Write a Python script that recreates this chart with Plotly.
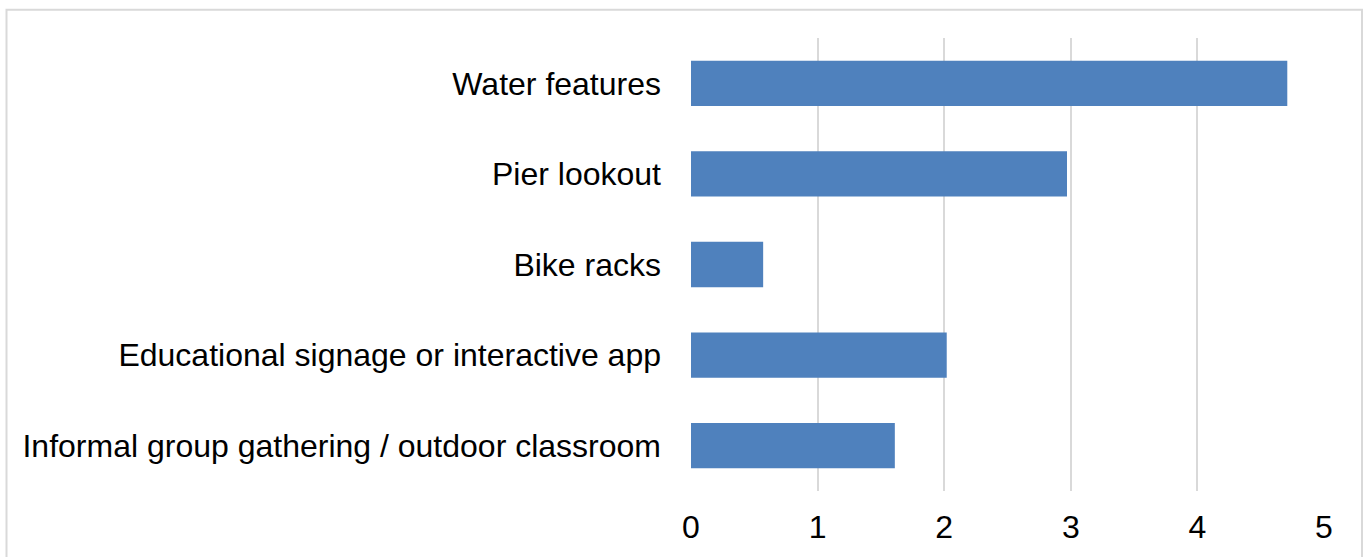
import plotly.graph_objects as go

categories = ["Informal group gathering / outdoor classroom",
              "Educational signage or interactive app",
              "Bike racks",
              "Pier lookout",
              "Water features"]
values = [1.61, 2.02, 0.57, 2.97, 4.71]
x_ticks = [0, 1, 2, 3, 4, 5]

W, H = 1363, 557
L, R, T, B = 691, 39, 38, 63
pw, ph = W - L - R, H - T - B

def px_x(x):
    return (x - L) / pw

def px_y(y):
    return (H - B - y) / ph

fig = go.Figure(go.Bar(
    x=values, y=categories, orientation="h",
    marker=dict(color="#4f81bd", line=dict(width=0)),
    width=0.5,
))

fig.update_layout(
    width=W, height=H,
    margin=dict(l=L, r=R, t=T, b=B),
    paper_bgcolor="white", plot_bgcolor="white",
    font=dict(family="Liberation Sans, Arial, sans-serif", size=32, color="black"),
    showlegend=False,
    xaxis=dict(range=[0, 5], tickvals=x_ticks, showgrid=True, gridcolor="#d9d9d9",
               gridwidth=2, zeroline=False, showline=False, ticks="",
               ticklabelstandoff=14, fixedrange=True),
    yaxis=dict(showgrid=False, zeroline=False, showline=False, ticks="",
               ticklabelstandoff=29, fixedrange=True),
    shapes=[dict(type="rect", xref="paper", yref="paper",
                 x0=px_x(6.5), x1=px_x(1362), y0=px_y(570), y1=px_y(9.5),
                 line=dict(color="#d9d9d9", width=2), layer="below")],
)

fig.write_html("out.html", config={"displayModeBar": False})

with open("out.html", "r", encoding="utf-8") as f:
    html = f.read()
html = html.replace("<head>", "<head><style>html,body{margin:0;padding:0;overflow:hidden;}</style>", 1)
with open("out.html", "w", encoding="utf-8") as f:
    f.write(html)
